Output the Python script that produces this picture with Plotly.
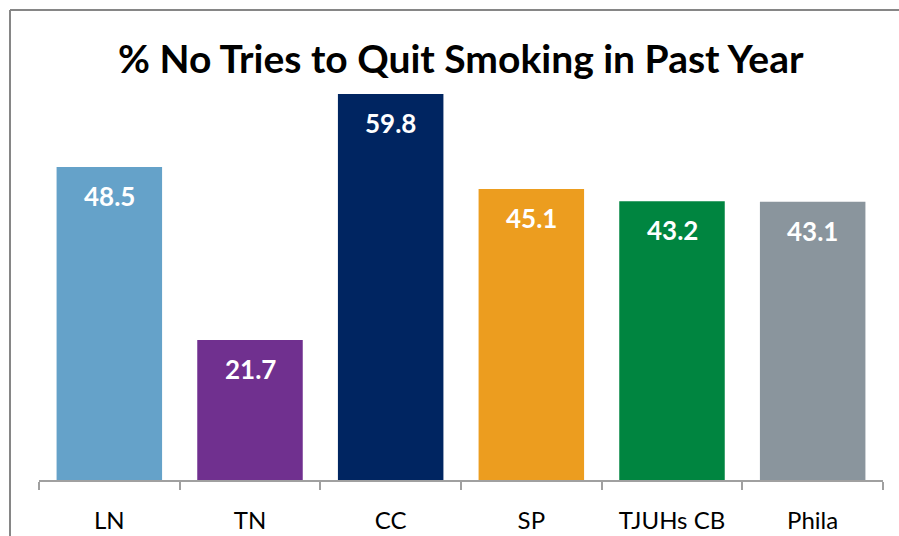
import plotly.graph_objects as go

categories = ["LN", "TN", "CC", "SP", "TJUHs CB", "Phila"]
values = [48.5, 21.7, 59.8, 45.1, 43.2, 43.1]
colors = ["#65A2C9", "#70308F", "#002561", "#EC9D1F", "#008540", "#8A959D"]
labels = ["48.5", "21.7", "59.8", "45.1", "43.2", "43.1"]

W, H = 899, 536
L, R, T, B = 39, 16, 80, 56
FONT = "Lato"

fig = go.Figure()
fig.add_trace(go.Bar(x=categories, y=values, marker=dict(color=colors, line=dict(width=0)),
                     width=0.75, hoverinfo="skip"))

for c, v, t in zip(categories, values, labels):
    fig.add_annotation(x=c, y=v, text="<b>%s</b>" % t, showarrow=False, yshift=-29,
                       font=dict(family=FONT, size=26, color="white"))

fig.add_annotation(xref="paper", yref="paper", x=0.5, y=1.05, yanchor="middle",
                   text="<b>% No Tries to Quit Smoking in Past Year</b>", showarrow=False,
                   font=dict(family=FONT, size=39, color="black"), xshift=0, yshift=2)

pw = W - L - R
ph = H - T - B
def px(x): return (x - L) / pw
def py(y): return (H - B - y) / ph

fig.add_shape(type="line", xref="paper", yref="paper", x0=px(10), x1=px(905), y0=py(10), y1=py(10),
              line=dict(color="#868686", width=2))
fig.add_shape(type="line", xref="paper", yref="paper", x0=px(10), x1=px(10), y0=py(10), y1=py(540),
              line=dict(color="#868686", width=2))

fig.update_layout(
    width=W, height=H, margin=dict(l=L, r=R, t=T, b=B, autoexpand=False),
    paper_bgcolor="white", plot_bgcolor="white", showlegend=False, bargap=0.25,
    xaxis=dict(showline=True, linecolor="#A0A0A0", linewidth=1.5, ticks="outside", tickson="boundaries",
               ticklen=8, tickcolor="#A0A0A0", tickwidth=1.5, ticklabelstandoff=18, automargin=False,
               tickfont=dict(family=FONT, size=24, color="black"), showgrid=False),
    yaxis=dict(range=[0, 61.97], visible=False, showgrid=False, zeroline=False, automargin=False),
)
fig.write_html("out.html", config={"displayModeBar": False},
               post_script="document.body.style.margin='0';document.body.style.overflow='hidden';")
